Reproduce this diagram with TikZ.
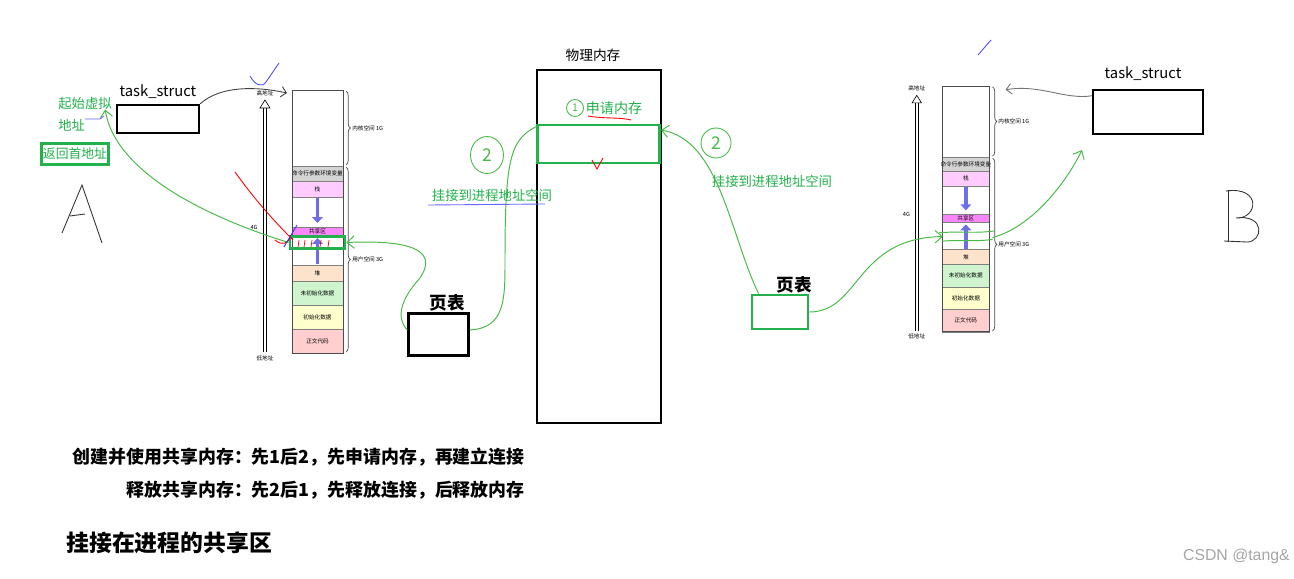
\documentclass[tikz,border=0pt]{standalone}
\usepackage{fontspec}
\setmainfont{Noto Sans CJK SC}
\newfontfamily\csdnfont{Liberation Sans}
\usetikzlibrary{arrows.meta}
\usetikzlibrary{shapes.geometric}
\usetikzlibrary{decorations.pathreplacing}

\definecolor{paintgreen}{RGB}{34,177,76}
\definecolor{inkgreen}{RGB}{72,186,72}
\definecolor{cmdgray}{RGB}{212,212,212}
\definecolor{stackpink}{RGB}{255,204,255}
\definecolor{shmpink}{RGB}{250,135,250}
\definecolor{heappeach}{RGB}{253,226,204}
\definecolor{bssgreen}{RGB}{206,245,206}
\definecolor{datayellow}{RGB}{255,255,206}
\definecolor{textred}{RGB}{255,206,206}
\definecolor{growblue}{RGB}{110,110,232}

% one process address space, drawn in local pixels
\newcommand{\memlayout}{%
  \draw[double=white, double distance=1.4pt, line width=0.35pt] (-27,262) -- (-27,17);
  \draw[fill=white, line width=0.35pt] (-32,18) -- (-27,10) -- (-22,18) -- cycle;
  \node[tinylbl] (high) at (-27,3) {高地址};
  \node[tinylbl] (low) at (-27,268) {低地址};
  \node[tinylbl] (size) at (-38,137) {4G};
  \foreach \ytop/\ybot/\col/\txt in {76/91/cmdgray/命令行参数环境变量,
      91/107/stackpink/栈, 137/146/shmpink/共享区, 175/191/heappeach/堆,
      191/215/bssgreen/未初始化数据, 215/239/datayellow/初始化数据,
      239/263/textred/正文代码}
  {
    \draw[fill=\col, draw=gray] (0,\ytop) rectangle (51,\ybot);
    \node[tinylbl] at (25.5,{(\ytop+\ybot)/2}) {\txt};
  }
  \draw[gray!60!black, line width=0.5pt] (0,0) rectangle (51,263);
  \draw[growarrow] (25.5,108) -- (25.5,133);
  \draw[growarrow] (25.5,174) -- (25.5,148);
  \draw[segbrace] (54,1) -- (54,75);
  \draw[segbrace] (54,77) -- (54,262);
  \node[tinylbl, anchor=west] (kern) at (60,38) {内核空间 1G};
  \node[tinylbl, anchor=west] (user) at (60,169) {用户空间 3G};
}

\begin{document}
\begin{tikzpicture}[x=0.02cm, y=-0.02cm]

  \tikzset{tinylbl/.style = {inner sep=0, font=\fontsize{3.2}{4}\selectfont}}
  \tikzset{growarrow/.style = {growblue, line width=2.2pt, -{Triangle[length=3.4pt, width=6pt]}}}
  \tikzset{segbrace/.style = {decorate, decoration={brace, amplitude=2.5pt}, gray!60!black, line width=0.4pt}}
  \tikzset{blackbox/.style = {draw, line width=1.4pt, inner sep=0}}
  \tikzset{greenbox/.style = {draw=paintgreen, line width=1.6pt, inner sep=0}}
  \tikzset{greentext/.style = {inner sep=0, text=paintgreen, font=\fontsize{7.6}{9}\selectfont}}
  \tikzset{blacktext/.style = {inner sep=0, font=\fontsize{8.4}{10}\selectfont}}
  \tikzset{pagelbl/.style = {inner sep=0, font=\bfseries\fontsize{10}{12}\selectfont}}
  \tikzset{notetext/.style = {inner sep=0, font=\bfseries\fontsize{10.2}{12}\selectfont}}
  \tikzset{inkcircle/.style = {circle, draw=inkgreen, line width=0.5pt, text=inkgreen, inner sep=0, minimum size=0.68cm, font=\fontsize{10}{12}\selectfont}}
  \tikzset{ink/.style = {inkgreen, line width=0.55pt, > = {Straight Barb[length=4pt, width=7pt]}}}

  \fill[white] (0,0) rectangle (1294,578);
  \useasboundingbox (0,0) rectangle (1294,578);

  % process A
  \node[blacktext] (taskAlbl) at (158,92) {task\_struct};
  \node[blackbox, minimum width=1.64cm, minimum height=0.56cm] (taskA) at (158,119) {};
  \node[greentext, anchor=west] (startA) at (58,103) {起始虚拟};
  \node[greentext, anchor=west] (startA2) at (58,125) {地址};
  \node[greenbox, minimum width=1.34cm, minimum height=0.42cm, text=paintgreen,
        font=\fontsize{7.3}{9}\selectfont] (retA) at (75,154) {返回首地址};
  \draw[line width=0.5pt, black!80] (62,233) -- (82,185) -- (102,243);
  \draw[line width=0.5pt, black!80] (70,216) -- (85,214);

  \begin{scope}[shift={(292,90)}, name prefix=L-]
    \memlayout
    \node[greenbox, minimum width=1.1cm, minimum height=0.24cm] (map) at (25.5,152.5) {};
    \coordinate (in) at (-5,3);
  \end{scope}

  % physical memory
  \node[blacktext, font=\fontsize{7.8}{9}\selectfont] (physlbl) at (593,55) {物理内存};
  \node[blackbox, minimum width=2.48cm, minimum height=7.06cm] (phys) at (599,246.5) {};
  \node[greenbox, minimum width=2.44cm, minimum height=0.76cm] (physShm) at (598.5,144) {};
  \node[inkcircle, minimum size=0.34cm, font=\itshape\fontsize{6}{7}\selectfont] (one) at (575,108) {1};
  \node[greentext, font=\fontsize{8}{9}\selectfont] (alloc) at (614,108) {申请内存};
  \node[greentext] (attachA) at (492,195) {挂接到进程地址空间};
  \node[greentext] (attachB) at (772,181) {挂接到进程地址空间};
  \node[inkcircle, ellipse, minimum width=0.66cm, minimum height=0.74cm] (twoA) at (487,155) {2};
  \node[inkcircle, minimum size=0.6cm] (twoB) at (716,143) {2};

  % page tables
  \node[pagelbl] (pageAlbl) at (447,303) {页表};
  \node[blackbox, minimum width=1.2cm, minimum height=0.84cm] (pageA) at (438.5,334.5) {};
  \node[pagelbl] (pageBlbl) at (794,285) {页表};
  \node[greenbox, minimum width=1.12cm, minimum height=0.68cm] (pageB) at (780,312) {};

  % process B
  \begin{scope}[shift={(942,86)}, scale=0.935, name prefix=R-]
    \memlayout
    \draw[ink] (-3,157) .. controls (20,155) and (35,158) .. (56,155);
    \draw[ink] (0,166) .. controls (20,164) and (35,167) .. (54,164);
    \coordinate (mapW) at (1,161);
    \coordinate (mapE) at (54,162);
    \coordinate (in) at (68,4);
  \end{scope}
  \node[blacktext] (taskBlbl) at (1143,74) {task\_struct};
  \node[blackbox, minimum width=2.2cm, minimum height=0.88cm] (taskB) at (1148,112) {};
  \coordinate (taskBin) at (1082,150);
  \draw[line width=0.5pt, black!80] (1228,190) -- (1228,242);
  \draw[line width=0.5pt, black!80] (1226,191) .. controls (1262,186) and (1258,219) .. (1236,218)
        .. controls (1266,214) and (1263,242) .. (1247,242) -- (1224,241);

  %edges
  \draw[line width=0.5pt, black!75, ->, > = {Straight Barb[length=3pt, width=6pt]}]
        (taskA.north east) .. controls (220,86) and (255,86) .. (L-in);
  \draw[ink, ->] (L-map.west) .. controls (200,215) and (115,170) .. ([xshift=-0.14cm]startA.south east);
  \draw[ink, <-] (L-map.east) .. controls (405,240) and (440,248) .. (420,278)
        .. controls (400,300) and (396,318) .. ([yshift=0.09cm]pageA.west);
  \draw[ink] ([yshift=0.09cm]pageA.east) .. controls (505,328) and (505,300) .. (505,260)
        .. controls (505,160) and (510,140) .. ([yshift=-0.06cm]physShm.north west);
  \draw[ink, <-] ([yshift=0.28cm]physShm.east) .. controls (720,140) and (730,235) .. ([xshift=0.16cm]pageB.north west);
  \draw[ink, ->] (pageB.east) .. controls (860,312) and (855,238) .. (R-mapW);
  \draw[ink, ->] (R-mapE) .. controls (1030,228) and (1065,185) .. (taskBin);
  \draw[line width=0.5pt, black!55, ->, > = {Straight Barb[length=3pt, width=6pt]}]
        ([yshift=-0.14cm]taskB.north west) .. controls (1065,100) and (1040,84) .. (R-in);

  % pen marks
  \draw[blue!70, line width=0.5pt] (250,76) .. controls (255,85) and (262,88) .. (266,82) -- (279,63);
  \draw[blue!70, line width=0.5pt] (978,55) -- (991,40);
  \draw[blue!60, line width=0.5pt] (85,119) -- (100,119) -- (104,116);
  \draw[red, line width=0.5pt] (235,172) .. controls (255,200) and (275,222) .. (293,240);
  \draw[red, line width=0.5pt] (275,240) .. controls (282,246) and (288,244) .. (291,236);
  \draw[blue!80, line width=0.5pt] (284,247) -- (297,225);
  \foreach \tx in {299,305,312,321,329}
    \draw[red, line width=0.4pt] (\tx,240) -- (\tx-1,247);
  \draw[red, line width=0.5pt] (588,116) .. controls (605,119) and (620,117) .. (631,120);
  \draw[red, line width=0.5pt] (592,160) -- (597,169) -- (603,158);
  \draw[blue!60, line width=0.5pt] (428,205) -- (545,204);

  % notes
  \node[notetext, anchor=east] (create) at (525,457) {创建并使用共享内存：先1后2，先申请内存，再建立连接};
  \node[notetext, anchor=east] (release) at (525,490) {释放共享内存：先2后1，先释放连接，后释放内存};
  \node[notetext, anchor=west, font=\bfseries\fontsize{13}{15}\selectfont] (title) at (66,543) {挂接在进程的共享区};
  \node[anchor=east, inner sep=0, text=gray!70, font=\csdnfont\fontsize{9}{11}\selectfont] (mark) at (1290,556) {CSDN @tang\&};

\end{tikzpicture}
\end{document}
